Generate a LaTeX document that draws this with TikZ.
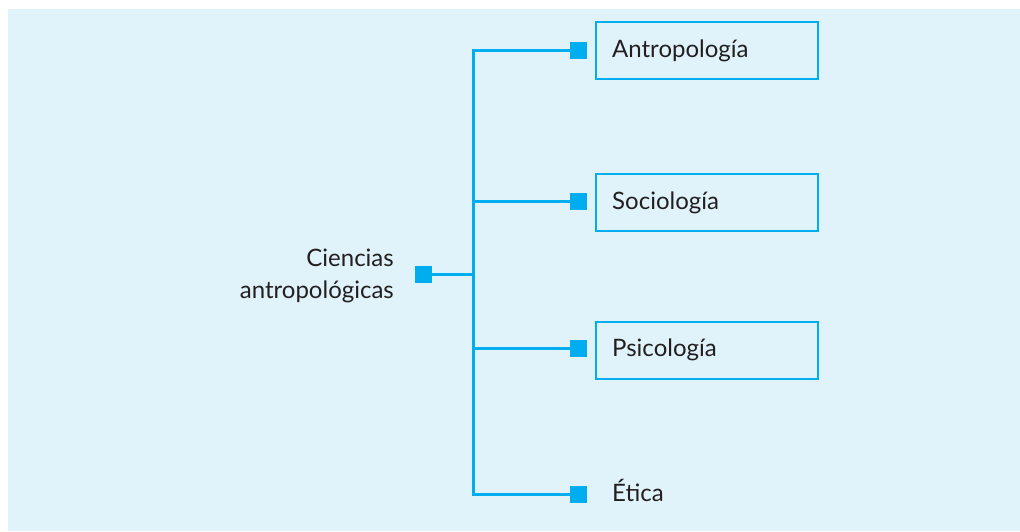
\documentclass[tikz,border=0pt]{standalone}
\usepackage{fontspec}
\setmainfont{Lato}
\definecolor{cy}{HTML}{00AEEF}
\definecolor{bg}{HTML}{E0F3FA}
\definecolor{tx}{HTML}{231F20}
\begin{document}
\begin{tikzpicture}[x=1pt,y=-1pt,
  lbl/.style={font=\fontsize{24}{32}\selectfont,text=tx,inner sep=0pt},
  catbox/.style={draw=cy,line width=2pt,minimum width=222pt,minimum height=57pt,inner sep=0pt},
  sq/.style={fill=cy,minimum size=17pt,inner sep=0pt},
  ln/.style={draw=cy,line width=3pt}]
\useasboundingbox (0,0) rectangle (1020,531);
\fill[bg] (8,9) rectangle (1020,531);
\node[sq] (s0) at (423.5,274.5) {};
\coordinate (j) at (473,274.5);
\node[sq] (s1) at (578.5,50.5) {};
\node[sq] (s2) at (578.5,201) {};
\node[sq] (s3) at (578.5,348) {};
\node[sq] (s4) at (578.5,494) {};
\coordinate (t) at (473,50.5);
\coordinate (b) at (473,494);
\node[catbox] (b1) at (706.5,50) {};
\node[catbox] (b2) at (706.5,202) {};
\node[catbox] (b3) at (706.5,350) {};
\node[lbl,anchor=base west] (l1) at (612,57) {Antropología};
\node[lbl,anchor=base west] (l2) at (612,209) {Sociología};
\node[lbl,anchor=base west] (l3) at (612,356) {Psicología};
\node[lbl,anchor=base west] (l4) at (612,501) {Ética};
\node[lbl,anchor=base east] (c1) at (394,266) {Ciencias};
\node[lbl,anchor=base east] (c2) at (394,298) {antropológicas};
\draw[ln] (s0.east) -- (j);
\draw[ln,line cap=rect] (t) -- (b);
\draw[ln] (t) -- (s1.west);
\draw[ln] (j |- s2) -- (s2.west);
\draw[ln] (j |- s3) -- (s3.west);
\draw[ln] (b) -- (s4.west);
\end{tikzpicture}
\end{document}
